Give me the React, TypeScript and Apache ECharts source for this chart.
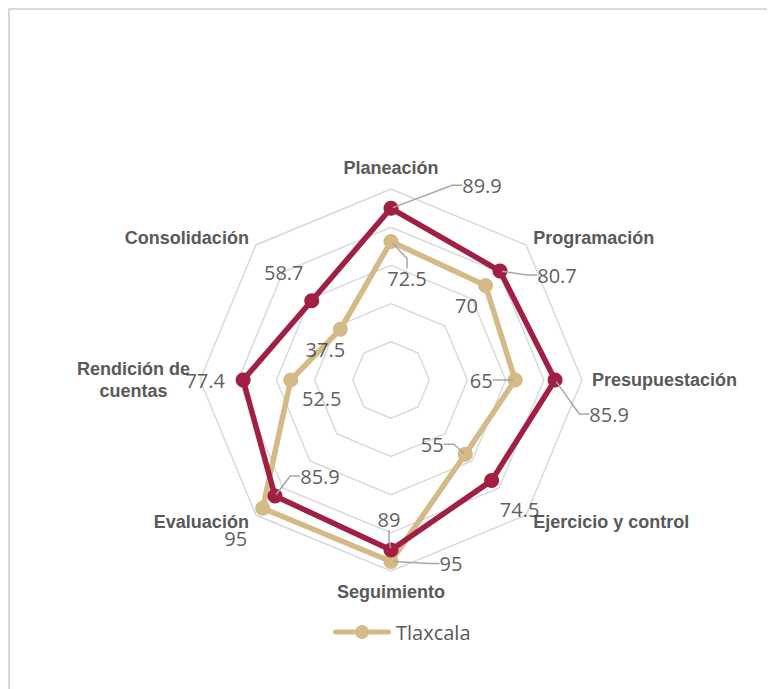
import React, { useEffect, useRef } from "react";
import * as echarts from "echarts";

// Indicators in clockwise order starting from the top
const categories = [
  "Planeación",
  "Programación",
  "Presupuestación",
  "Ejercicio y control",
  "Seguimiento",
  "Evaluación",
  "Rendición de cuentas",
  "Consolidación",
];
const referenceName = "Promedio";
const referenceValues = [89.9, 80.7, 85.9, 74.5, 89, 85.9, 77.4, 58.7];
const tlaxcalaName = "Tlaxcala";
const tlaxcalaValues = [72.5, 70, 65, 55, 95, 95, 52.5, 37.5];
const axisMax = 100;

// label offsets (px) from each vertex, and whether a leader line is drawn
const refLabelOffsets = [[91, -23], [57, 4], [54, 34], [28, 29], [-2, -30], [45, -20], [-38, 0], [-28, -28]];
const refLabelLines = [true, true, true, false, true, true, false, false];
const tlxLabelOffsets = [[16, 37], [-19, 20], [-34, 0], [-33, -10], [60, 2], [-27, 30], [31, 18], [-15, 20]];
const tlxLabelLines = [true, false, true, true, true, false, false, false];

const RED = "#A01F43";
const TAN = "#D3BA86";
const CX = 381;
const CY = 370;
const R = 191;

export default function App() {
  const ref = useRef<HTMLDivElement>(null);
  useEffect(() => {
    if (!ref.current) return;
    const chart = echarts.init(ref.current, null, { renderer: "svg" });
    const n = categories.length;
    // ECharts radar places indicators counter-clockwise; reorder to get clockwise layout
    const ccwIdx = categories.map((_, k) => (n - k) % n);
    const indicator = ccwIdx.map((i) => ({ name: categories[i], max: axisMax, min: 0 }));
    const ccw = (arr: number[]) => ccwIdx.map((i) => arr[i]);

    const labelPoints = (vals: number[], lines: boolean[]) =>
      vals.map((v, i) => ({
        value: [v, (i * 360) / n],
        labelLine: { show: lines[i] },
      }));

    const refPts = labelPoints(referenceValues, refLabelLines);
    const tlxPts = labelPoints(tlaxcalaValues, tlxLabelLines);

    const labelSeries = (name: string, pts: any[], offs: number[][]) => ({
      type: "scatter",
      name: name + "_labels",
      coordinateSystem: "polar",
      symbol: "circle",
      symbolSize: 4,
      itemStyle: { color: "rgba(0,0,0,0)" },
      silent: true,
      z: 5,
      data: pts,
      label: {
        show: true,
        position: "inside",
        formatter: (p: any) => String(p.value[0]),
        fontFamily: "Open Sans",
        fontSize: 20,
        color: "#333333",
      },
      labelLine: {
        show: true,
        length2: 10,
        lineStyle: { color: "#A6A6A6", width: 1.5 },
      },
      labelLayout: (p: any) => ({ dx: offs[p.dataIndex][0], dy: offs[p.dataIndex][1] }),
    });

    chart.setOption({
      animation: false,
      legend: {
        data: [tlaxcalaName],
        left: 318,
        top: 607,
        itemWidth: 58,
        itemHeight: 14,
        itemGap: 2,
        icon: "path://M2.5,4.5 L55.5,4.5 A2.5,2.5 0 0 1 55.5,9.5 L2.5,9.5 A2.5,2.5 0 0 1 2.5,4.5 Z M29,0 A7,7 0 1 1 28.99,0 Z",
        textStyle: { fontFamily: "Open Sans", fontSize: 20, color: "#595959", padding: [0, 0, 0, 0] },
      },
      radar: {
        center: [CX, CY],
        radius: R,
        startAngle: 90,
        splitNumber: 5,
        shape: "polygon",
        indicator,
        nameGap: 10,
        axisName: {
          formatter: (name: string) =>
            name === "Rendición de cuentas" ? "{n|Rendición de}\n{n|cuentas}" : "{n|" + name + "}",
          rich: {
            n: {
              align: "center",
              fontFamily: "Liberation Sans",
              fontWeight: "bold",
              fontSize: 18,
              color: "#595959",
              lineHeight: 22,
            },
          },
        },
        axisLine: { show: false },
        axisTick: { show: false },
        axisLabel: { show: false },
        splitArea: { show: false },
        splitLine: { lineStyle: { color: "#D9D9D9", width: 1.5 } },
      },
      polar: { center: [CX, CY], radius: R },
      angleAxis: { type: "value", min: 0, max: 360, startAngle: 90, clockwise: true, show: false },
      radiusAxis: { type: "value", min: 0, max: axisMax, show: false },
      series: [
        {
          type: "radar",
          symbol: "circle",
          symbolSize: 15,
          z: 2,
          data: [
            {
              name: tlaxcalaName,
              value: ccw(tlaxcalaValues),
              itemStyle: { color: TAN },
              lineStyle: { color: TAN, width: 5.5 },
            },
            {
              name: referenceName,
              value: ccw(referenceValues),
              itemStyle: { color: RED },
              lineStyle: { color: RED, width: 5.5 },
            },
          ],
        },
        labelSeries(tlaxcalaName, tlxPts, tlxLabelOffsets),
        labelSeries(referenceName, refPts, refLabelOffsets),
      ],
    } as any);
    return () => chart.dispose();
  }, []);

  return (
    <div style={{ width: 765, height: 700, border: "2px solid #D9D9D9", boxSizing: "border-box" }}>
      <div ref={ref} style={{ width: 761, height: 696 }} />
    </div>
  );
}
